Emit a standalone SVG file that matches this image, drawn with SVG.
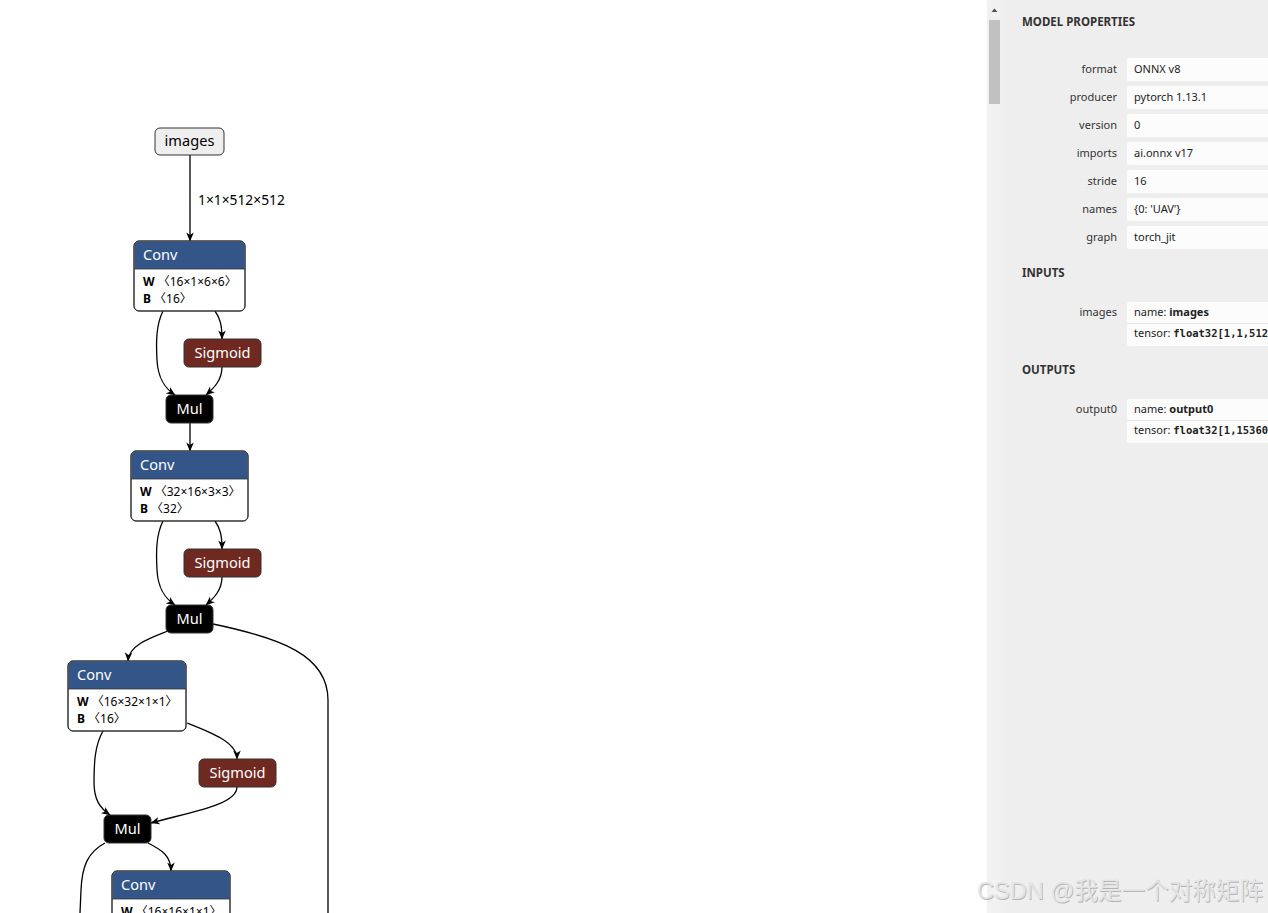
<svg xmlns="http://www.w3.org/2000/svg" width="1268" height="913" viewBox="0 0 1268 913">
<defs>
<style>
.t{font-family:"Noto Sans","Noto Sans CJK SC",sans-serif}
.nt{font-family:"Noto Sans",sans-serif;font-size:14.6px;fill:#fff}
.attr{font-family:"Noto Sans","Noto Sans CJK SC",sans-serif;font-size:12px;fill:#000}
.b{font-weight:bold}
.edge{fill:none;stroke:#000;stroke-width:1.3;marker-end:url(#arr)}
.body{fill:#fff;stroke:#333;stroke-width:1}
.conv{fill:#335588}
.sig{fill:#702921;stroke:#333;stroke-width:1}
.mul{fill:#000;stroke:#333;stroke-width:1}
.lbl{font-family:"Noto Sans",sans-serif;font-size:11px;fill:#333;text-anchor:end}
.val{font-family:"Noto Sans",sans-serif;font-size:11px;fill:#222}
.hdr{font-family:"Noto Sans",sans-serif;font-size:11.5px;font-weight:bold;fill:#333}
.mono{font-family:"DejaVu Sans Mono","Liberation Mono",monospace;font-weight:bold;font-size:10.5px}
.box{fill:#fcfcfc}
</style>
<marker id="arr" viewBox="0 0 10 10" refX="9.5" refY="5" markerWidth="9" markerHeight="9" markerUnits="userSpaceOnUse" orient="auto">
<path d="M0,0.8 L10,5 L0,9.2 L2.8,5 z" fill="#000"/>
</marker>
</defs>
<rect x="0" y="0" width="1268" height="913" fill="#fff"/>

<g id="edges">
<path class="edge" d="M190,155 L190,241"/>
<path class="edge" d="M163,311 C156,325 156,342 157,360 C158,380 166,389 175,395"/>
<path class="edge" d="M215,311 C220,318 222,325 222,339"/>
<path class="edge" d="M222,367 C222,380 214,388 206,395"/>
<path class="edge" d="M190,423 L190,451"/>
<path class="edge" d="M163,521 C156,535 156,552 157,570 C158,590 166,599 175,605"/>
<path class="edge" d="M215,521 C220,528 222,535 222,549"/>
<path class="edge" d="M222,577 C222,590 214,598 206,605"/>
<path class="edge" d="M168,631 C150,638 129,645 128,661"/>
<path fill="none" stroke="#000" stroke-width="1.3" d="M213,624 C280,638 328,655 328,700 L328,913"/>
<path class="edge" d="M103,731 C95,745 94,762 94,782 C94,800 100,808 110,815"/>
<path class="edge" d="M187,723 C210,732 237,742 237,759"/>
<path class="edge" d="M237,787 C237,805 190,812 151,823"/>
<path class="edge" d="M148,843 C162,850 171,856 171,871"/>
<path fill="none" stroke="#000" stroke-width="1.3" d="M105,843 C88,852 82,866 81,890 L80,913"/>
</g>
<text class="t" x="198" y="205" font-size="13.8" fill="#000">1×1×512×512</text>

<g id="node-images">
<rect x="155" y="128" width="69" height="27" rx="5" fill="#eeeeee" stroke="#333"/>
<text class="t" x="189.5" y="146" font-size="14.6" text-anchor="middle" fill="#000">images</text>
</g>

<g id="node-conv1">
<rect class="body" x="134" y="241" width="111" height="70" rx="5"/>
<path class="conv" d="M134.5,269 L134.5,246 Q134.5,241.5 139.5,241.5 L239.5,241.5 Q244.5,241.5 244.5,246 L244.5,269 z"/>
<line x1="134" y1="269" x2="245" y2="269" stroke="#333" stroke-width="0.8"/>
<rect x="134" y="241" width="111" height="70" rx="5" fill="none" stroke="#333"/>
<text class="nt" x="143" y="260">Conv</text>
<text class="attr" x="143" y="286"><tspan class="b">W</tspan> 〈16×1×6×6〉</text>
<text class="attr" x="143" y="303"><tspan class="b">B</tspan> 〈16〉</text>
</g>

<g id="node-sigmoid1">
<rect class="sig" x="184" y="339" width="77" height="28" rx="5"/>
<text class="nt" x="222.5" y="358" text-anchor="middle">Sigmoid</text>
</g>

<g id="node-mul1">
<rect class="mul" x="166" y="395" width="47" height="28" rx="5"/>
<text class="nt" x="189.5" y="414" text-anchor="middle">Mul</text>
</g>

<g id="node-conv2">
<rect class="body" x="131" y="451" width="117" height="70" rx="5"/>
<path class="conv" d="M131.5,479 L131.5,456 Q131.5,451.5 136.5,451.5 L242.5,451.5 Q247.5,451.5 247.5,456 L247.5,479 z"/>
<line x1="131" y1="479" x2="248" y2="479" stroke="#333" stroke-width="0.8"/>
<rect x="131" y="451" width="117" height="70" rx="5" fill="none" stroke="#333"/>
<text class="nt" x="140" y="470">Conv</text>
<text class="attr" x="140" y="496"><tspan class="b">W</tspan> 〈32×16×3×3〉</text>
<text class="attr" x="140" y="513"><tspan class="b">B</tspan> 〈32〉</text>
</g>

<g id="node-sigmoid2">
<rect class="sig" x="184" y="549" width="77" height="28" rx="5"/>
<text class="nt" x="222.5" y="568" text-anchor="middle">Sigmoid</text>
</g>

<g id="node-mul2">
<rect class="mul" x="166" y="605" width="47" height="28" rx="5"/>
<text class="nt" x="189.5" y="624" text-anchor="middle">Mul</text>
</g>

<g id="node-conv3">
<rect class="body" x="68" y="661" width="118" height="70" rx="5"/>
<path class="conv" d="M68.5,689 L68.5,666 Q68.5,661.5 73.5,661.5 L180.5,661.5 Q185.5,661.5 185.5,666 L185.5,689 z"/>
<line x1="68" y1="689" x2="186" y2="689" stroke="#333" stroke-width="0.8"/>
<rect x="68" y="661" width="118" height="70" rx="5" fill="none" stroke="#333"/>
<text class="nt" x="77" y="680">Conv</text>
<text class="attr" x="77" y="706"><tspan class="b">W</tspan> 〈16×32×1×1〉</text>
<text class="attr" x="77" y="723"><tspan class="b">B</tspan> 〈16〉</text>
</g>

<g id="node-sigmoid3">
<rect class="sig" x="199" y="759" width="77" height="28" rx="5"/>
<text class="nt" x="237.5" y="778" text-anchor="middle">Sigmoid</text>
</g>

<g id="node-mul3">
<rect class="mul" x="104" y="815" width="47" height="28" rx="5"/>
<text class="nt" x="127.5" y="834" text-anchor="middle">Mul</text>
</g>

<g id="node-conv4">
<rect class="body" x="112" y="871" width="118" height="70" rx="5"/>
<path class="conv" d="M112.5,899 L112.5,876 Q112.5,871.5 117.5,871.5 L224.5,871.5 Q229.5,871.5 229.5,876 L229.5,899 z"/>
<line x1="112" y1="899" x2="230" y2="899" stroke="#333" stroke-width="0.8"/>
<rect x="112" y="871" width="118" height="70" rx="5" fill="none" stroke="#333"/>
<text class="nt" x="121" y="890">Conv</text>
<text class="attr" x="121" y="916"><tspan class="b">W</tspan> 〈16×16×1×1〉</text>
</g>

<g id="panel">
<rect x="987" y="0" width="281" height="913" fill="#eeeeee"/>
<rect x="987" y="0" width="15" height="913" fill="#f1f1f1"/>
<rect x="989" y="20" width="11" height="84" fill="#c1c1c1"/>
<path d="M991.5,12 L994.5,8.5 L997.5,12 z" fill="#505050"/>

<text class="hdr" x="1022" y="26">MODEL PROPERTIES</text>

<rect class="box" x="1127" y="58" width="145" height="23" rx="2"/>
<text class="lbl" x="1117" y="73">format</text><text class="val" x="1134" y="73">ONNX v8</text>
<rect class="box" x="1127" y="86" width="145" height="23" rx="2"/>
<text class="lbl" x="1117" y="101">producer</text><text class="val" x="1134" y="101">pytorch 1.13.1</text>
<rect class="box" x="1127" y="114" width="145" height="23" rx="2"/>
<text class="lbl" x="1117" y="129">version</text><text class="val" x="1134" y="129">0</text>
<rect class="box" x="1127" y="142" width="145" height="23" rx="2"/>
<text class="lbl" x="1117" y="157">imports</text><text class="val" x="1134" y="157">ai.onnx v17</text>
<rect class="box" x="1127" y="170" width="145" height="23" rx="2"/>
<text class="lbl" x="1117" y="185">stride</text><text class="val" x="1134" y="185">16</text>
<rect class="box" x="1127" y="198" width="145" height="23" rx="2"/>
<text class="lbl" x="1117" y="213">names</text><text class="val" x="1134" y="213">{0: 'UAV'}</text>
<rect class="box" x="1127" y="226" width="145" height="23" rx="2"/>
<text class="lbl" x="1117" y="241">graph</text><text class="val" x="1134" y="241">torch_jit</text>

<text class="hdr" x="1022" y="277">INPUTS</text>
<rect class="box" x="1127" y="302" width="145" height="44" rx="2"/>
<line x1="1127" y1="323.5" x2="1268" y2="323.5" stroke="#e6e6e6" stroke-width="1"/>
<text class="lbl" x="1117" y="316">images</text>
<text class="val" x="1134" y="316">name: <tspan class="b">images</tspan></text>
<text class="val" x="1134" y="337">tensor: <tspan class="mono">float32[1,1,512</tspan></text>

<text class="hdr" x="1022" y="374">OUTPUTS</text>
<rect class="box" x="1127" y="399" width="145" height="44" rx="2"/>
<line x1="1127" y1="420.5" x2="1268" y2="420.5" stroke="#e6e6e6" stroke-width="1"/>
<text class="lbl" x="1117" y="413">output0</text>
<text class="val" x="1134" y="413">name: <tspan class="b">output0</tspan></text>
<text class="val" x="1134" y="434">tensor: <tspan class="mono">float32[1,15360</tspan></text>
</g>

<g id="watermark">
<text x="977.8" y="899.8" font-family="Liberation Sans,'Noto Sans CJK SC',sans-serif" font-size="23.6" fill="#b4b4b4">CSDN @我是一个对称矩阵</text>
<text x="977" y="899" font-family="Liberation Sans,'Noto Sans CJK SC',sans-serif" font-size="23.6" fill="#e4e4e4">CSDN @我是一个对称矩阵</text>
</g>
</svg>
